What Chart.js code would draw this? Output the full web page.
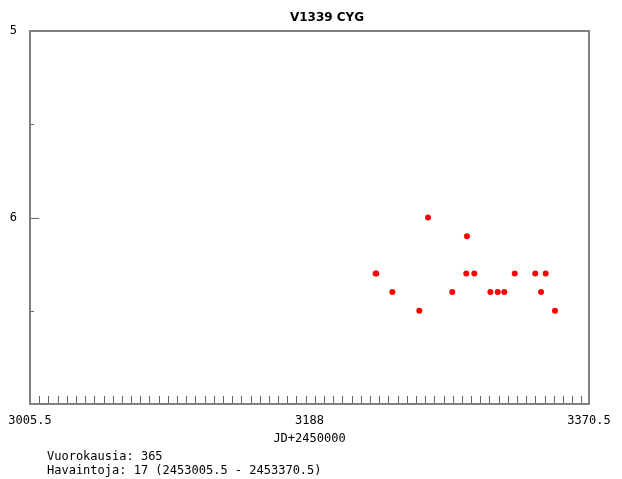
<!DOCTYPE html>
<html>
<head>
<meta charset="utf-8">
<script src="https://cdn.jsdelivr.net/npm/chart.js@4"></script>
<style>
html, body { margin: 0; padding: 0; background: #fff; }
#wrap { width: 622px; height: 479px; }
</style>
</head>
<body>
<div id="wrap"><canvas id="c" width="622" height="479"></canvas></div>
<script>
// ---- data ----
const starName = 'V1339 CYG';
const xAxisTitle = 'JD+2450000';
const jd  = [3231.2, 3231.6, 3242.1, 3259.7, 3265.4, 3281.2, 3290.4, 3290.8, 3295.6, 3306.1, 3310.9, 3315.2, 3322.0, 3335.4, 3339.2, 3342.2, 3348.3];
const mag = [6.3,    6.3,    6.4,    6.5,    6.0,    6.4,    6.3,    6.1,    6.3,    6.4,    6.4,    6.4,    6.3,    6.3,    6.4,    6.3,    6.5];
const xRange = [3005.5, 3370.5];
const xTickLabels = [3005.5, 3188, 3370.5];
const xMinorStep = 6;
const yRange = [5, 7];
const yTickLabels = [5, 6];
const yMajorTicks = [5, 6, 7];
const yMinorTicks = [5.5, 6.5];
const footnote = ['Vuorokausia: 365', 'Havaintoja: 17 (2453005.5 - 2453370.5)'];

const monoFont = { family: '"DejaVu Sans Mono", monospace', size: 12 };
const titleShift = 16;

function shiftTitle(chart) {
  const t = chart.titleBlock;
  if (t) { t.left = titleShift; t.right = chart.width + titleShift; t.width = chart.width; }
}

const framePlugin = {
  id: 'frame',
  afterLayout(chart) { shiftTitle(chart); },
  beforeDraw(chart) { shiftTitle(chart); },
  afterDraw(chart) {
    const { ctx, chartArea: a, scales } = chart;
    const x = scales.x, y = scales.y;
    ctx.save();
    const L = Math.round(a.left), T = Math.round(a.top), R = Math.round(a.right), B = Math.round(a.bottom);
    ctx.strokeStyle = '#666';
    ctx.lineWidth = 1;
    ctx.beginPath();
    for (let v = xRange[0] + xMinorStep; v < xRange[1] - 1; v += xMinorStep) {
      const px = Math.round(x.getPixelForValue(v)) + 0.5;
      ctx.moveTo(px, B); ctx.lineTo(px, B - 8);
    }
    yMajorTicks.forEach(v => {
      const py = Math.round(y.getPixelForValue(v)) + 0.5;
      ctx.moveTo(L, py); ctx.lineTo(L + 9, py);
    });
    yMinorTicks.forEach(v => {
      const py = Math.round(y.getPixelForValue(v)) + 0.5;
      ctx.moveTo(L, py); ctx.lineTo(L + 4, py);
    });
    ctx.stroke();
    ctx.strokeStyle = '#808080';
    ctx.lineWidth = 2;
    ctx.strokeRect(L, T, R - L, B - T);
    ctx.fillStyle = '#000';
    ctx.font = monoFont.size + 'px ' + monoFont.family;
    ctx.textBaseline = 'middle';
    ctx.textAlign = 'left';
    footnote.forEach((t, i) => ctx.fillText(t, L + 17, chart.height - 22 + i * 14));
    ctx.restore();
  }
};

new Chart(document.getElementById('c'), {
  type: 'scatter',
  data: {
    datasets: [{
      data: jd.map((v, i) => ({ x: v, y: mag[i] })),
      backgroundColor: '#ff0000',
      borderWidth: 0,
      pointRadius: 3,
      pointHoverRadius: 3
    }]
  },
  options: {
    responsive: false,
    animation: false,
    devicePixelRatio: 1,
    layout: { padding: { left: 0, right: 33, top: 0, bottom: 33 } },
    plugins: {
      legend: { display: false },
      tooltip: { enabled: false },
      title: {
        display: true,
        text: starName,
        color: '#000',
        font: { family: '"DejaVu Sans", sans-serif', size: 12, weight: 'bold' },
        padding: { top: 11, bottom: 5.6 }
      }
    },
    scales: {
      x: {
        type: 'linear',
        min: xRange[0], max: xRange[1],
        afterBuildTicks: s => { s.ticks = xTickLabels.map(v => ({ value: v })); },
        ticks: { autoSkip: false, maxRotation: 0, padding: 10, color: '#000', font: monoFont, callback: v => String(v) },
        grid: { display: false, drawTicks: false },
        border: { display: false },
        title: { display: true, text: xAxisTitle, color: '#000', font: monoFont, padding: { top: 0, bottom: 0 } },
        afterFit: s => { s.height = 42; s.paddingLeft = 0; s.paddingRight = 0; }
      },
      y: {
        type: 'linear',
        reverse: true,
        min: yRange[0], max: yRange[1],
        afterBuildTicks: s => { s.ticks = yTickLabels.map(v => ({ value: v })); },
        ticks: { padding: 13, color: '#000', font: monoFont, callback: v => String(v) },
        grid: { display: false, drawTicks: false },
        border: { display: false },
        afterFit: s => { s.width = 30; s.paddingTop = 0; s.paddingBottom = 0; }
      }
    }
  },
  plugins: [framePlugin]
});
</script>
</body>
</html>
